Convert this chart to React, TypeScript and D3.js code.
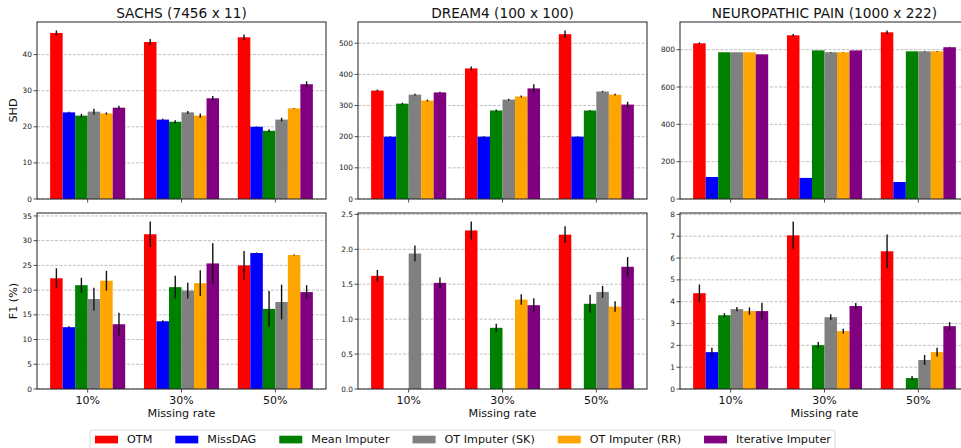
import React, { useEffect, useRef } from "react";
import * as d3 from "d3";

const methods = ["OTM", "MissDAG", "Mean Imputer", "OT Imputer (SK)", "OT Imputer (RR)", "Iterative Imputer"];
const methodColors = ["#ff0000", "#0000ff", "#008000", "#808080", "#ffa500", "#800080"];
const missingRates = ["10%", "30%", "50%"];
const datasetTitles = ["SACHS (7456 x 11)", "DREAM4 (100 x 100)", "NEUROPATHIC PAIN (1000 x 222)"];
const rowLabels = ["SHD", "F1 (%)"];

// values per missing rate, per method
const sachsShd = [
  [46.0, 24.0, 23.1, 24.2, 23.7, 25.3],
  [43.5, 22.0, 21.4, 24.0, 23.1, 27.9],
  [44.8, 20.0, 18.9, 22.0, 25.1, 31.8],
];
const sachsShdErr = [
  [0.7, 0.2, 0.5, 0.8, 0.3, 0.5],
  [0.8, 0.2, 0.4, 0.4, 0.6, 0.6],
  [0.8, 0.1, 0.4, 0.5, 0.1, 0.8],
];
const dreamShd = [
  [348, 200, 306, 335, 316, 342],
  [419, 200, 284, 319, 329, 355],
  [529, 200, 284, 345, 335, 303],
];
const dreamShdErr = [
  [3, 1, 3, 3, 3, 2],
  [6, 1, 3, 3, 3, 13],
  [12, 1, 2, 2, 3, 9],
];
const neuroShd = [
  [834, 118, 786, 786, 786, 775],
  [877, 113, 796, 786, 786, 796],
  [893, 91, 791, 791, 791, 813],
];
const neuroShdErr = [
  [5, 0, 0, 0, 0, 1],
  [7, 0, 0, 2, 1, 0],
  [10, 0, 0, 2, 2, 2],
];
const sachsF1 = [
  [22.4, 12.5, 21.0, 18.2, 21.9, 13.1],
  [31.3, 13.7, 20.6, 19.9, 21.4, 25.4],
  [25.0, 27.5, 16.2, 17.6, 27.1, 19.6],
];
const sachsF1Err = [
  [2.0, 0.2, 1.5, 2.3, 2.0, 2.3],
  [2.6, 0.2, 2.3, 1.6, 2.6, 4.1],
  [2.9, 0.1, 3.6, 3.5, 0.1, 1.4],
];
const dreamF1 = [
  [1.62, 0, 0, 1.94, 0, 1.52],
  [2.27, 0, 0.876, 0, 1.28, 1.2],
  [2.21, 0, 1.22, 1.39, 1.18, 1.75],
];
const dreamF1Err = [
  [0.085, 0, 0, 0.115, 0, 0.077],
  [0.13, 0, 0.06, 0, 0.075, 0.1],
  [0.12, 0, 0.13, 0.085, 0.075, 0.14],
];
const neuroF1 = [
  [4.39, 1.69, 3.38, 3.66, 3.57, 3.57],
  [7.04, 0, 2.01, 3.29, 2.65, 3.8],
  [6.31, 0, 0.5, 1.33, 1.69, 2.88],
];
const neuroF1Err = [
  [0.4, 0.2, 0.09, 0.1, 0.17, 0.37],
  [0.64, 0, 0.14, 0.13, 0.11, 0.14],
  [0.77, 0, 0.09, 0.23, 0.2, 0.18],
];

const sachsShdTicks = [0, 10, 20, 30, 40];
const dreamShdTicks = [0, 100, 200, 300, 400, 500];
const neuroShdTicks = [0, 200, 400, 600, 800];
const sachsF1Ticks = [0, 5, 10, 15, 20, 25, 30, 35];
const dreamF1Ticks = [0, 0.5, 1, 1.5, 2, 2.5];
const neuroF1Ticks = [0, 1, 2, 3, 4, 5, 6, 7, 8];

const FONT = "DejaVu Sans, sans-serif";

export default function App() {
  const ref = useRef<SVGSVGElement | null>(null);

  useEffect(() => {
    const svg = d3.select(ref.current);
    svg.selectAll("*").remove();

    const colLeft = [37, 358, 680];
    const axW = 289;
    const rowTop = [22, 213];
    const rowBottom = [199, 389];

    const panels = [
      { row: 0, col: 0, vals: sachsShd, errs: sachsShdErr, ticks: sachsShdTicks, fmt: d3.format("d") },
      { row: 0, col: 1, vals: dreamShd, errs: dreamShdErr, ticks: dreamShdTicks, fmt: d3.format("d") },
      { row: 0, col: 2, vals: neuroShd, errs: neuroShdErr, ticks: neuroShdTicks, fmt: d3.format("d") },
      { row: 1, col: 0, vals: sachsF1, errs: sachsF1Err, ticks: sachsF1Ticks, fmt: d3.format("d") },
      { row: 1, col: 1, vals: dreamF1, errs: dreamF1Err, ticks: dreamF1Ticks, fmt: d3.format(".1f") },
      { row: 1, col: 2, vals: neuroF1, errs: neuroF1Err, ticks: neuroF1Ticks, fmt: d3.format("d") },
    ];

    const nM = methods.length;
    const bw = 0.8 / nM;

    panels.forEach((p) => {
      const x0 = colLeft[p.col];
      const y0 = rowTop[p.row];
      const y1 = rowBottom[p.row];
      const lo = -0.4, hi = missingRates.length - 1 + 0.4;
      const m = (hi - lo) * 0.05;
      const x = d3.scaleLinear().domain([lo - m, hi + m]).range([x0, x0 + axW]);
      let top = 0;
      p.vals.forEach((r, i) => r.forEach((v, j) => { top = Math.max(top, v + p.errs[i][j]); }));
      const y = d3.scaleLinear().domain([0, top * 1.05]).range([y1, y0]);

      const g = svg.append("g");
      // grid
      g.selectAll("line.grid").data(p.ticks).enter().append("line")
        .attr("x1", x0).attr("x2", x0 + axW)
        .attr("y1", (d) => y(d)).attr("y2", (d) => y(d))
        .attr("stroke", "#b0b0b0").attr("stroke-width", 0.8)
        .attr("stroke-dasharray", "3,1.5");

      // bars
      p.vals.forEach((r, i) => {
        r.forEach((v, j) => {
          const cx = i + (j - (nM - 1) / 2) * bw;
          if (v > 0) {
            g.append("rect")
              .attr("x", x(cx - bw / 2)).attr("width", x(cx + bw / 2) - x(cx - bw / 2))
              .attr("y", y(v)).attr("height", y(0) - y(v))
              .attr("fill", methodColors[j]);
          }
        });
      });
      // error bars
      p.vals.forEach((r, i) => {
        r.forEach((v, j) => {
          const e = p.errs[i][j];
          const cx = i + (j - (nM - 1) / 2) * bw;
          if (v > 0 && e > 0) {
            g.append("line")
              .attr("x1", x(cx)).attr("x2", x(cx))
              .attr("y1", y(v - e)).attr("y2", y(v + e))
              .attr("stroke", "#111").attr("stroke-width", 1.4);
          }
        });
      });

      // spine
      g.append("rect").attr("x", x0).attr("y", y0).attr("width", axW).attr("height", y1 - y0)
        .attr("fill", "none").attr("stroke", "#222").attr("stroke-width", 1);

      // y ticks
      p.ticks.forEach((t) => {
        g.append("line").attr("x1", x0 - 3.5).attr("x2", x0).attr("y1", y(t)).attr("y2", y(t))
          .attr("stroke", "#222").attr("stroke-width", 0.8);
        g.append("text").attr("x", x0 - 5).attr("y", y(t)).attr("dy", "0.35em")
          .attr("text-anchor", "end").attr("font-size", 7.4).attr("font-family", FONT)
          .attr("fill", "#222").text(p.fmt(t));
      });
      // x ticks
      missingRates.forEach((lab, i) => {
        g.append("line").attr("x1", x(i)).attr("x2", x(i)).attr("y1", y1).attr("y2", y1 + 3.5)
          .attr("stroke", "#222").attr("stroke-width", 0.8);
        if (p.row === 1) {
          g.append("text").attr("x", x(i)).attr("y", 404).attr("text-anchor", "middle")
            .attr("font-size", 11).attr("font-family", FONT).attr("fill", "#111").text(lab);
        }
      });
      if (p.row === 1) {
        g.append("text").attr("x", x0 + axW / 2).attr("y", 417).attr("text-anchor", "middle")
          .attr("font-size", 11.2).attr("font-family", FONT).attr("fill", "#111").text("Missing rate");
      }
      if (p.row === 0) {
        g.append("text").attr("x", x0 + axW / 2).attr("y", 18).attr("text-anchor", "middle")
          .attr("font-size", 13.7).attr("font-family", FONT).attr("fill", "#111").text(datasetTitles[p.col]);
      }
      if (p.col === 0) {
        const cy = (y0 + y1) / 2;
        g.append("text").attr("transform", `translate(17,${cy}) rotate(-90)`)
          .attr("text-anchor", "middle").attr("font-size", 11.2).attr("font-family", FONT)
          .attr("fill", "#111").text(rowLabels[p.row]);
      }
    });

    // legend
    const lg = svg.append("g");
    const box = lg.append("rect").attr("x", 90).attr("y", 430).attr("height", 24).attr("rx", 2)
      .attr("fill", "white").attr("stroke", "#d0d0d0").attr("stroke-width", 0.8);
    let cx = 95;
    methods.forEach((name, j) => {
      lg.append("rect").attr("x", cx).attr("y", 435.7).attr("width", 23).attr("height", 7.7)
        .attr("fill", methodColors[j]);
      const t = lg.append("text").attr("x", cx + 32).attr("y", 443.3)
        .attr("font-size", 11.2).attr("font-family", FONT).attr("fill", "#111").text(name);
      const node = t.node() as SVGTextElement;
      const w = node ? node.getComputedTextLength() : name.length * 6.5;
      cx = cx + 32 + w + (j < methods.length - 1 ? 23 : 4);
    });
    box.attr("width", cx - 90);
  }, []);

  return (
    <svg
      ref={ref}
      width={961}
      height={448}
      style={{ position: "absolute", left: 0, top: 0, background: "white" }}
    />
  );
}
